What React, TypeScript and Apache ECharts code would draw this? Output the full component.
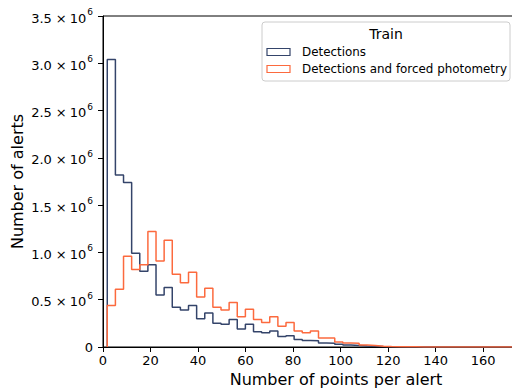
import React, { useEffect, useRef } from "react";
import * as echarts from "echarts";

// Histogram bins (counts in units of 1e6), bins start at BIN_START with width BIN_WIDTH
const BIN_START = 1.8;
const BIN_WIDTH = 3.42;
const detections = [
  3.04, 1.82, 1.74, 0.99, 0.8, 0.87, 0.55, 0.63, 0.42, 0.39,
  0.44, 0.3, 0.36, 0.25, 0.24, 0.29, 0.19, 0.24, 0.16, 0.15,
  0.17, 0.11, 0.12, 0.078, 0.07, 0.065, 0.042, 0.04, 0.028, 0.02,
  0.015, 0.01, 0.007, 0.004, 0.003, 0.002, 0.001, 0.0008, 0.0005, 0.0003,
  0.0002, 0.0001, 0.0001, 0.00005, 0.00005, 0.00003, 0.00002, 0.00001, 0.00001, 0.00001,
];
const detectionsForced = [
  0.44, 0.61, 0.96, 0.82, 0.87, 1.22, 0.91, 1.13, 0.77, 0.68,
  0.79, 0.53, 0.62, 0.42, 0.39, 0.47, 0.32, 0.4, 0.29, 0.26,
  0.32, 0.22, 0.26, 0.17, 0.15, 0.17, 0.095, 0.095, 0.053, 0.042,
  0.04, 0.02, 0.015, 0.008, 0.005, 0.003, 0.002, 0.0015, 0.001, 0.0008,
  0.0004, 0.0002, 0.0001, 0.0001, 0.00005, 0.00005, 0.00003, 0.00002, 0.00001, 0.00001,
];
const seriesNames = ["Detections", "Detections and forced photometry"];
const legendTitle = "Train";
const xTicks = [0, 20, 40, 60, 80, 100, 120, 140, 160];

const COLORS = ["#34446a", "#fc6a3e"];
const FONT = "DejaVu Sans";

function stepData(counts: number[]) {
  const pts: number[][] = [];
  pts.push([BIN_START, 0]);
  counts.forEach((c, i) => {
    const a = BIN_START + i * BIN_WIDTH;
    const b = a + BIN_WIDTH;
    pts.push([a, c * 1e6]);
    pts.push([b, c * 1e6]);
  });
  pts.push([BIN_START + counts.length * BIN_WIDTH, 0]);
  return pts;
}

export default function App() {
  const ref = useRef<HTMLDivElement>(null);
  useEffect(() => {
    if (!ref.current) return;
    const chart = echarts.init(ref.current, null, { renderer: "svg" });
    const legendX = 262;
    const legendY = 22;
    chart.setOption({
      animation: false,
      backgroundColor: "#fff",
      grid: {
        left: 103, top: 16, right: -1, bottom: 42,
        containLabel: false, outerBoundsMode: "none",
        show: true, borderColor: "#000", borderWidth: 1,
      },
      xAxis: {
        type: "value",
        min: 0,
        max: 172.6,
        name: "Number of points per alert",
        nameLocation: "middle",
        nameGap: 24,
        nameMoveOverlap: false,
        nameTextStyle: { fontSize: 16, fontFamily: FONT, color: "#000", padding: [0, 0, 0, 56] },
        axisLine: { show: true, lineStyle: { color: "#000", width: 1 } },
        axisTick: { show: true, length: 5, lineStyle: { color: "#000" }, customValues: xTicks },
        axisLabel: { fontSize: 13, fontFamily: FONT, color: "#000", margin: 7, customValues: xTicks },
        splitLine: { show: false },
      },
      yAxis: {
        type: "value",
        min: 0,
        max: 3.5e6,
        interval: 0.5e6,
        name: "Number of alerts",
        nameLocation: "middle",
        nameGap: 78,
        nameMoveOverlap: false,
        nameTextStyle: { fontSize: 16, fontFamily: FONT, color: "#000" },
        axisLine: { show: true, lineStyle: { color: "#000", width: 1 } },
        axisTick: { show: true, length: 5, lineStyle: { color: "#000" } },
        axisLabel: {
          fontSize: 13,
          fontFamily: FONT,
          color: "#000",
          margin: 10,
          formatter: (v: number) =>
            v === 0 ? "0" : `{n|${(v / 1e6).toFixed(1)}}{x|×}{n|10}{s|6}`,
          rich: {
            n: { fontSize: 13, fontFamily: FONT, color: "#000", verticalAlign: "bottom", lineHeight: 17 },
            x: { fontSize: 13, fontFamily: FONT, color: "#000", verticalAlign: "bottom", lineHeight: 17, padding: [0, 3, 0, 4] },
            s: { fontSize: 9, fontFamily: FONT, color: "#000", verticalAlign: "top", lineHeight: 10, padding: [0, 0, 0, 1] },
          },
        },
        splitLine: { show: false },
      },
      series: [
        {
          name: seriesNames[0],
          type: "line",
          data: stepData(detections),
          showSymbol: false,
          lineStyle: { color: COLORS[0], width: 1.5 },
          itemStyle: { color: COLORS[0] },
          z: 2,
        },
        {
          name: seriesNames[1],
          type: "line",
          data: stepData(detectionsForced),
          showSymbol: false,
          lineStyle: { color: COLORS[1], width: 1.5 },
          itemStyle: { color: COLORS[1] },
          z: 3,
        },
      ],
      graphic: [
        {
          type: "rect",
          shape: { x: legendX, y: legendY, width: 248, height: 59, r: 3 },
          style: { fill: "rgba(255,255,255,0.8)", stroke: "#cccccc", lineWidth: 1 },
          z: 10,
        },
        {
          type: "text",
          x: legendX + 124,
          y: 34,
          style: { text: legendTitle, fontSize: 14, fontFamily: FONT, fill: "#000", align: "center", verticalAlign: "middle" },
          z: 11,
        },
        ...seriesNames.flatMap((name, i) => [
          {
            type: "rect",
            shape: { x: 267, y: 48.5 + i * 17, width: 23, height: 7 },
            style: { fill: "none", stroke: COLORS[i], lineWidth: 1.2 },
            z: 11,
          },
          {
            type: "text",
            x: 302,
            y: 52.3 + i * 17,
            style: { text: name, fontSize: 11.9, fontFamily: FONT, fill: "#000", align: "left", verticalAlign: "middle" },
            z: 11,
          },
        ]),
      ],
    });
    return () => chart.dispose();
  }, []);
  return (
    <div
      ref={ref}
      style={{ position: "fixed", left: 0, top: 0, width: 512, height: 389 }}
    />
  );
}
